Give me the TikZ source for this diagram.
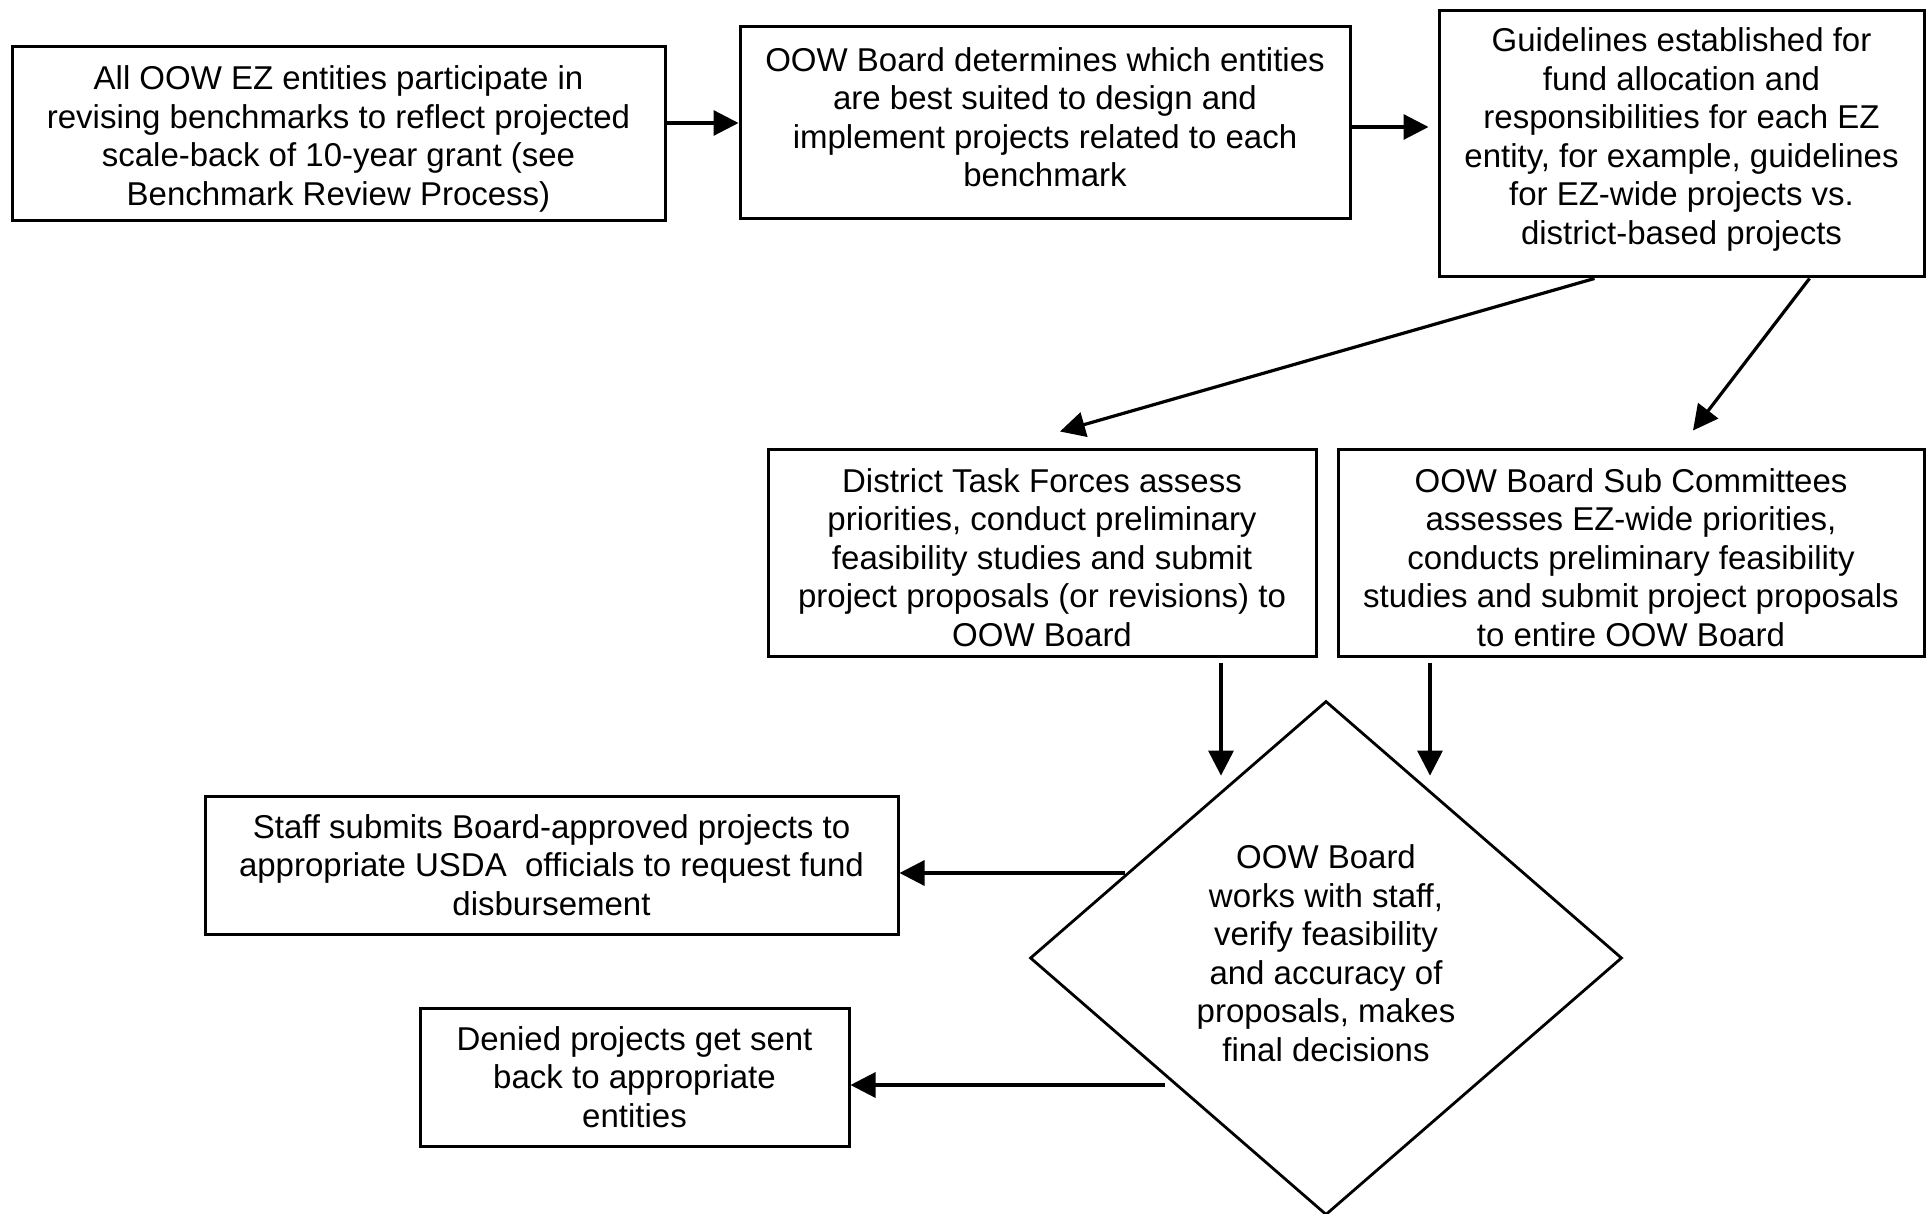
\documentclass[tikz,border=0pt]{standalone}
\usepackage{fontspec}
\setmainfont{Liberation Sans}
\usetikzlibrary{shapes.geometric,arrows.meta,calc}

% struts that set the height above the first line or the depth under the last
\newcommand{\lowstrut}[1]{\rule[-#1]{0pt}{#1}}
\newcommand{\highstrut}[1]{\rule{0pt}{#1}}

\begin{document}
\begin{tikzpicture}[x=0.5pt,y=-0.5pt,
  every node/.style={font=\fontsize{16.5pt}{19.25pt}\selectfont, align=center},
  box/.style={draw=black, line width=1.5pt, rectangle, inner sep=2pt},
  decision/.style={draw=black, line width=1.4pt, diamond, inner sep=0pt},
  arr/.style={line width=1.6pt, -{Triangle[length=12.5pt,width=12.5pt]}}
]
\useasboundingbox (0,0) rectangle (1928,1214);

% top row
\node[box, minimum width=326.5pt, minimum height=87pt] (b1) at (338.5,134)
  {\highstrut{17pt}All OOW EZ entities participate in\\
   revising benchmarks to reflect projected\\
   scale-back of 10-year grant (see\\
   Benchmark Review Process)};
\node[box, minimum width=305pt, minimum height=96pt] (b2) at (1045,123)
  {OOW Board determines which entities\\
   are best suited to design and\\
   implement projects related to each\\
   benchmark\lowstrut{6pt}};
\node[box, minimum width=242.5pt, minimum height=133pt] (b3) at (1681.5,144)
  {Guidelines established for\\
   fund allocation and\\
   responsibilities for each EZ\\
   entity, for example, guidelines\\
   for EZ-wide projects vs.\\
   district-based projects\lowstrut{8.2pt}};

% middle row
\node[box, minimum width=274pt, minimum height=103.5pt] (b4) at (1042,552.5)
  {\highstrut{17pt}District Task Forces assess\\
   priorities, conduct preliminary\\
   feasibility studies and submit\\
   project proposals (or revisions) to\\
   OOW Board};
\node[box, minimum width=293pt, minimum height=103.5pt] (b5) at (1631,552.5)
  {\highstrut{17pt}OOW Board Sub Committees\\
   assesses EZ-wide priorities,\\
   conducts preliminary feasibility\\
   studies and submit project proposals\\
   to entire OOW Board};

% decision
\node[decision, minimum width=296pt, minimum height=257pt] (d) at (1326,958)
  {OOW Board\\
   works with staff,\\
   verify feasibility\\
   and accuracy of\\
   proposals, makes\\
   final decisions\lowstrut{5pt}};

% outcomes
\node[box, minimum width=346.5pt, minimum height=69pt] (b6) at (551.5,865)
  {Staff submits Board-approved projects to\\
   appropriate USDA~ officials to request fund\\
   disbursement};
\node[box, minimum width=214.5pt, minimum height=69pt] (b7) at (634.5,1077)
  {Denied projects get sent\\
   back to appropriate\\
   entities};

% connector end points
\coordinate (s3) at ($(b3.south)+(-87,0)$);
\coordinate (e3) at ($(b4.north)+(18,-16)$);
\coordinate (s4) at ($(b3.south)+(128,0)$);
\coordinate (e4) at ($(b5.north)+(62,-17)$);
\coordinate (s5) at ($(b4.south)+(179,5)$);
\coordinate (e5) at ($(d.north)+(-105,76)$);
\coordinate (s6) at ($(b5.south)+(-201,5)$);
\coordinate (e6) at ($(d.north)+(104,76)$);
\coordinate (s7) at ($(d.west)+(96,-85)$);
\coordinate (s8) at ($(d.west)+(136,127)$);

% connectors
\draw[arr] (b1.east |- b2.west) -- (b2.west);
\draw[arr, shorten >=4.5pt] ($(b2.east)+(0,4)$) -- ($(b3.west |- b2.east)+(0,4)$);
\draw[arr] (s3) -- (e3);
\draw[arr] (s4) -- (e4);
\draw[arr] (s5) -- (e5);
\draw[arr] (s6) -- (e6);
\draw[arr] (s7) -- (s7 -| b6.east);
\draw[arr] (s8) -- (s8 -| b7.east);
\end{tikzpicture}
\end{document}
